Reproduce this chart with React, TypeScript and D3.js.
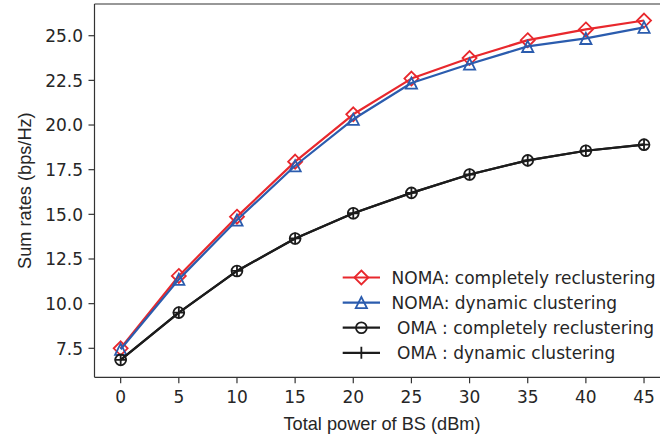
import React from "react";
import * as d3 from "d3";

const powers = [0, 5, 10, 15, 20, 25, 30, 35, 40, 45];
const nomaComplete = [7.5, 11.55, 14.87, 17.95, 20.6, 22.6, 23.75, 24.75, 25.35, 25.85];
const nomaDynamic = [7.45, 11.36, 14.68, 17.72, 20.32, 22.35, 23.42, 24.4, 24.85, 25.47];
const omaComplete = [6.85, 9.5, 11.83, 13.65, 15.06, 16.2, 17.23, 18.02, 18.56, 18.9];
const omaDynamic = [6.85, 9.5, 11.83, 13.65, 15.06, 16.2, 17.23, 18.02, 18.56, 18.9];
const xTicks = [0, 5, 10, 15, 20, 25, 30, 35, 40, 45];
const yTicks = [7.5, 10, 12.5, 15, 17.5, 20, 22.5, 25];
const seriesLabels = [
  "NOMA: completely reclustering",
  "NOMA: dynamic clustering",
  " OMA : completely reclustering",
  " OMA : dynamic clustering",
];
const seriesColors = ["#e8282d", "#2b5cae", "#1c1c1c", "#1c1c1c"];
const seriesMarkers = ["diamond", "triangle", "circle", "plus"];
const seriesData = [nomaComplete, nomaDynamic, omaComplete, omaDynamic];

const W = 660;
const H = 437;
const left = 94.5;
const right = 670.2;
const top = 4;
const bottom = 377.3;

function Marker({ kind, cx, cy, color }: { kind: string; cx: number; cy: number; color: string }) {
  const sw = 1.8;
  if (kind === "diamond") {
    const r = 7;
    return (
      <path
        d={`M${cx},${cy - r}L${cx + r},${cy}L${cx},${cy + r}L${cx - r},${cy}Z`}
        fill="none"
        stroke={color}
        strokeWidth={sw}
      />
    );
  }
  if (kind === "triangle") {
    const r = 5.6;
    return (
      <path
        d={`M${cx},${cy - r}L${cx + r},${cy + r}L${cx - r},${cy + r}Z`}
        fill="none"
        stroke={color}
        strokeWidth={sw}
      />
    );
  }
  if (kind === "circle") {
    return <circle cx={cx} cy={cy} r={5.4} fill="none" stroke={color} strokeWidth={sw} />;
  }
  const r = 6;
  return (
    <path
      d={`M${cx - r},${cy}L${cx + r},${cy}M${cx},${cy - r}L${cx},${cy + r}`}
      fill="none"
      stroke={color}
      strokeWidth={sw}
    />
  );
}

export default function App() {
  const x = d3.scaleLinear().domain([-2.25, 47.25]).range([left, right]);
  const y = d3.scaleLinear().domain([5.877, 26.775]).range([bottom, top]);
  const line = d3
    .line<[number, number]>()
    .x((d) => x(d[0]))
    .y((d) => y(d[1]));

  const tickColor = "#333333";
  const textColor = "#262626";
  const legendX1 = 342.7;
  const legendX2 = 380;
  const legendTextX = 391.6;
  const legendY0 = 277.5;
  const legendDy = 25.1;

  return (
    <svg
      width={W}
      height={H}
      style={{ position: "absolute", left: 0, top: 0, background: "#fff" }}
    >
      <rect x={0} y={0} width={W} height={H} fill="#fff" />
      {/* series */}
      {seriesData.map((vals, i) => {
        const pts: [number, number][] = powers.map((p, j) => [p, vals[j]]);
        return (
          <g key={i}>
            <path d={line(pts) || ""} fill="none" stroke={seriesColors[i]} strokeWidth={2.2} strokeLinejoin="round" />
            {pts.map((p, j) => (
              <Marker key={j} kind={seriesMarkers[i]} cx={x(p[0])} cy={y(p[1])} color={seriesColors[i]} />
            ))}
          </g>
        );
      })}
      {/* spines */}
      <line x1={left} x2={left} y1={top} y2={bottom} stroke={tickColor} strokeWidth={1.2} />
      <line x1={left} x2={right} y1={bottom} y2={bottom} stroke={tickColor} strokeWidth={1.2} />
      <line x1={left} x2={right} y1={top} y2={top} stroke={tickColor} strokeWidth={1.2} />
      <line x1={right} x2={right} y1={top} y2={bottom} stroke={tickColor} strokeWidth={1.2} />
      {/* x ticks */}
      {xTicks.map((t) => (
        <g key={t}>
          <line x1={x(t)} x2={x(t)} y1={bottom} y2={bottom + 6} stroke={tickColor} strokeWidth={1.2} />
          <text
            x={x(t)}
            y={403.3}
            textAnchor="middle"
            fontFamily="DejaVu Sans"
            fontSize={17}
            fill={textColor}
          >
            {t}
          </text>
        </g>
      ))}
      {/* y ticks */}
      {yTicks.map((t) => (
        <g key={t}>
          <line x1={left - 6} x2={left} y1={y(t)} y2={y(t)} stroke={tickColor} strokeWidth={1.2} />
          <text
            x={left - 11.5}
            y={y(t) + 6.2}
            textAnchor="end"
            fontFamily="DejaVu Sans"
            fontSize={17}
            fill={textColor}
          >
            {t.toFixed(1)}
          </text>
        </g>
      ))}
      {/* axis labels */}
      <text
        x={382}
        y={429.5}
        textAnchor="middle"
        fontFamily="Liberation Sans, Arial, sans-serif"
        fontSize={18.2}
        fill={textColor}
      >
        Total power of BS (dBm)
      </text>
      <text
        transform={`translate(31,${(top + bottom) / 2}) rotate(-90)`}
        textAnchor="middle"
        fontFamily="Liberation Sans, Arial, sans-serif"
        fontSize={18.2}
        fill={textColor}
      >
        Sum rates (bps/Hz)
      </text>
      {/* legend */}
      {seriesLabels.map((lab, i) => {
        const ly = legendY0 + i * legendDy;
        return (
          <g key={i}>
            <line x1={legendX1} x2={legendX2} y1={ly} y2={ly} stroke={seriesColors[i]} strokeWidth={2.2} />
            <Marker kind={seriesMarkers[i]} cx={(legendX1 + legendX2) / 2} cy={ly} color={seriesColors[i]} />
            <text
              x={legendTextX}
              y={ly + 6.2}
              fontFamily="DejaVu Sans"
              fontSize={17}
              fill={textColor}
              style={{ whiteSpace: "pre" }}
              xmlSpace="preserve"
            >
              {lab}
            </text>
          </g>
        );
      })}
    </svg>
  );
}
